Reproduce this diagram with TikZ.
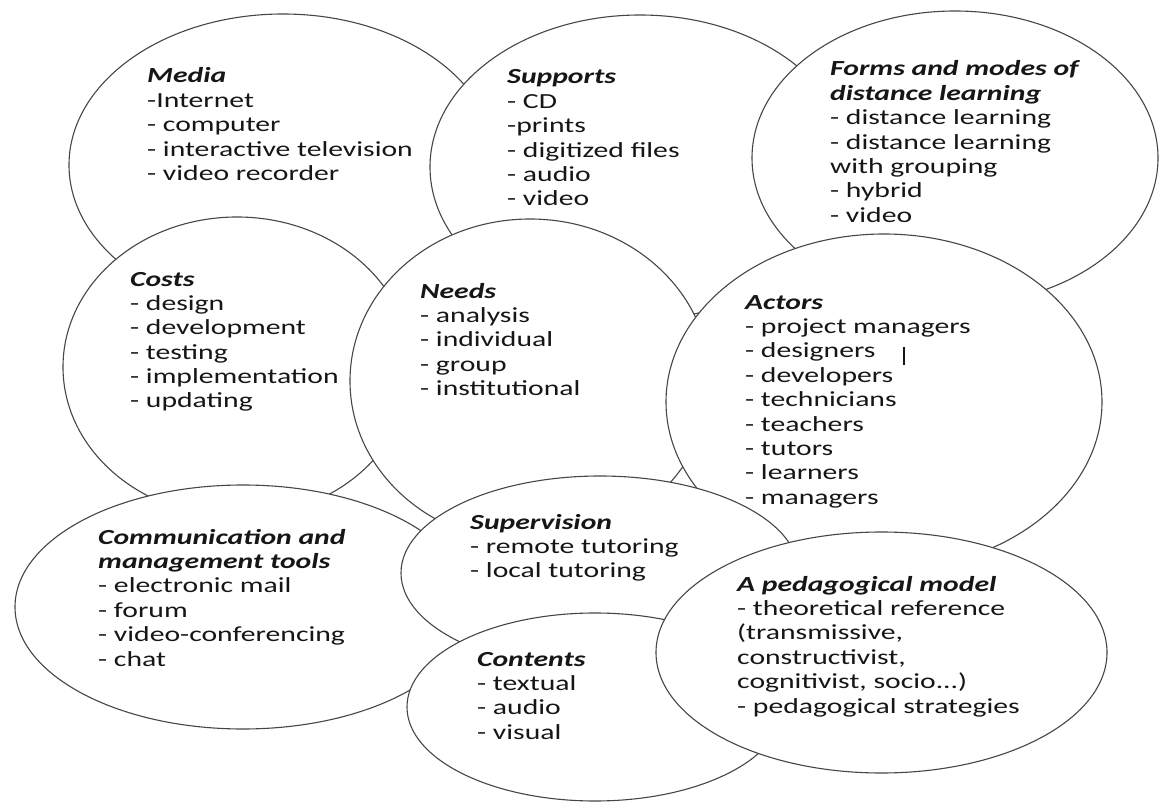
\documentclass[tikz,border=0pt]{standalone}
\usepackage{fontspec}
\setmainfont{Carlito}[FakeStretch=1.38]
\usetikzlibrary{shapes.geometric}
\definecolor{rim}{RGB}{70,70,70}
\definecolor{ink}{RGB}{22,22,22}
\newcommand\bubbletitle[1]{\textbf{\textit{#1}}}
% lists are placed by the baseline of their last line
\tikzset{
  bubble/.style={ellipse, draw=rim, line width=1.1pt, fill=white,
    inner sep=0pt, outer sep=0pt},
  notes/.style={anchor=base west, align=left, inner sep=0pt, text=ink,
    font=\fontsize{21.5}{24.4}\selectfont}
}
\begin{document}
\begin{tikzpicture}[x=1pt,y=-1pt]
\path[use as bounding box, fill=white] (0,0) rectangle (1160,802);

% ellipses are stacked back to front, each with its own list
\node[bubble, minimum width=428pt, minimum height=302pt] (media) at (283,165) {};
\node[notes] (media-t) at (147,180.6) {\bubbletitle{Media}\\-Internet\\- computer\\- interactive television\\- video recorder};

\node[bubble, minimum width=420pt, minimum height=304pt] (supports) at (640,167) {};
\node[notes] (supports-t) at (507,206) {\bubbletitle{Supports}\\- CD\\-prints\\- digitized files\\- audio\\- video};

\node[bubble, minimum width=406pt, minimum height=294pt] (forms) at (955,158) {};
\node[notes] (forms-t) at (830,222.4) {\bubbletitle{Forms and modes of}\\\bubbletitle{distance learning}\\- distance learning\\- distance learning\\with grouping\\- hybrid\\- video};

\node[bubble, minimum width=348pt, minimum height=300pt] (costs) at (237,367) {};
\node[notes] (costs-t) at (130,408) {\bubbletitle{Costs}\\- design\\- development\\- testing\\- implementation\\- updating};

\node[bubble, minimum width=360pt, minimum height=324pt] (needs) at (530,381) {};
\node[notes] (needs-t) at (420,395.6) {\bubbletitle{Needs}\\- analysis\\- individual\\- group\\- institutional};

\node[bubble, minimum width=436pt, minimum height=336pt] (actors) at (884,402) {};
\node[notes] (actors-t) at (745,504.2) {\bubbletitle{Actors}\\- project managers\\- designers\\- developers\\- technicians\\- teachers\\- tutors\\- learners\\- managers};
\draw[ink, line width=1.2pt] (904,347) -- (904,365);

\node[bubble, minimum width=456pt, minimum height=244pt] (comm) at (243,607) {};
\node[notes] (comm-t) at (98,666) {\bubbletitle{Communication and}\\\bubbletitle{management tools}\\- electronic mail\\- forum\\- video-conferencing\\- chat};

\node[bubble, minimum width=398pt, minimum height=194pt] (supervision) at (600,573) {};
\node[notes] (supervision-t) at (470,577.8) {\bubbletitle{Supervision}\\- remote tutoring\\- local tutoring};

\node[bubble, minimum width=376pt, minimum height=188pt] (contents) at (595,707) {};
\node[notes] (contents-t) at (477,739.2) {\bubbletitle{Contents}\\- textual\\- audio\\- visual};

\node[bubble, minimum width=451pt, minimum height=241pt] (pedagogy) at (881.5,652.5) {};
\node[notes] (pedagogy-t) at (737,713) {\bubbletitle{A pedagogical model}\\- theoretical reference\\(transmissive,\\constructivist,\\cognitivist, socio...)\\- pedagogical strategies};
\end{tikzpicture}
\end{document}
